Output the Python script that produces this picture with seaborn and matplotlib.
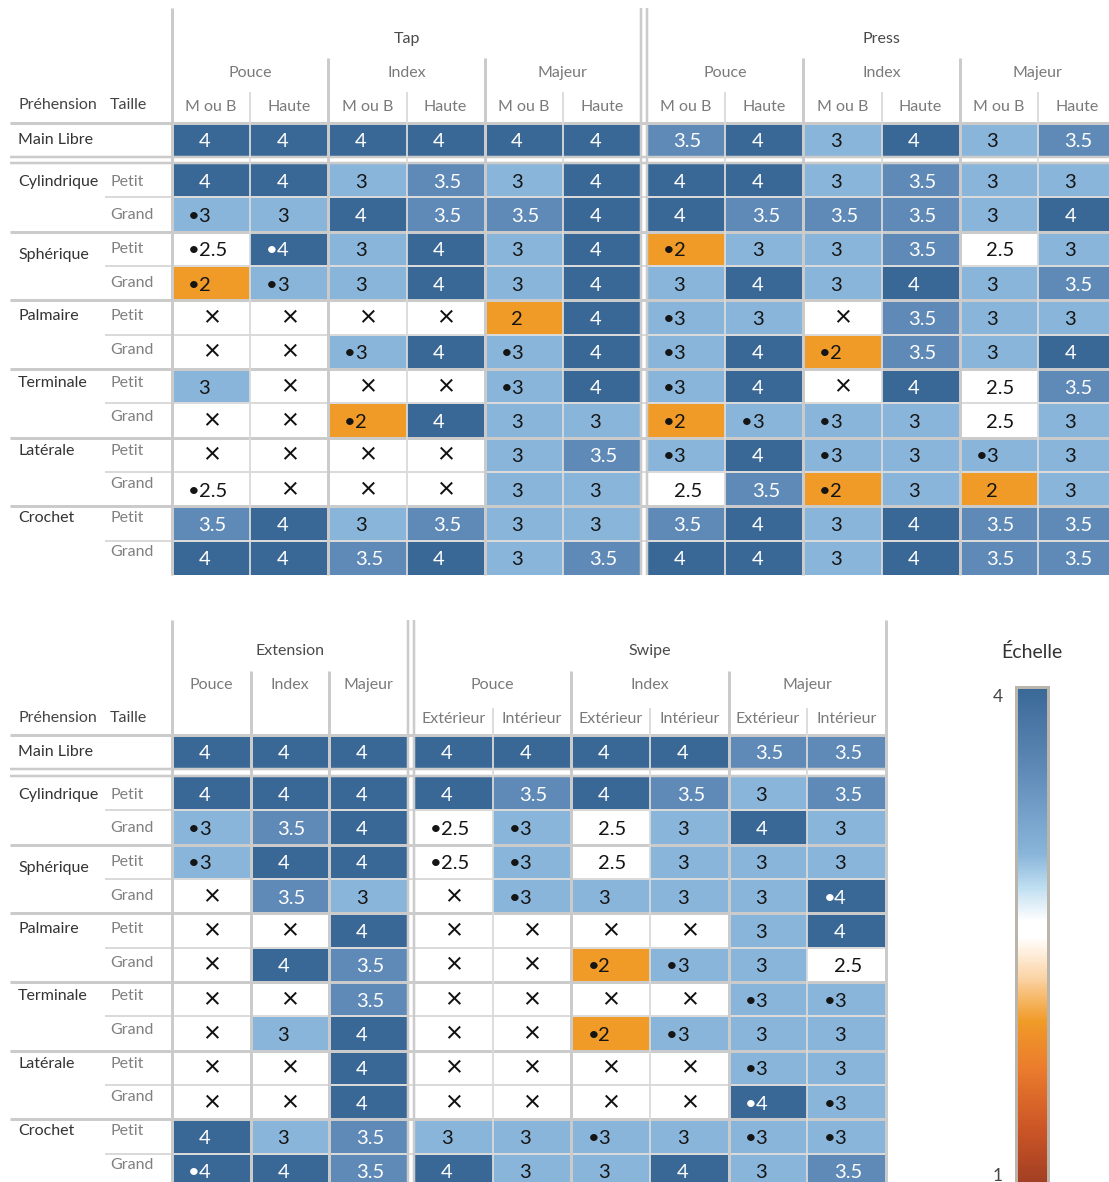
import numpy as np
import pandas as pd
import seaborn as sns
import matplotlib.pyplot as plt
from matplotlib.colors import LinearSegmentedColormap, Normalize
from matplotlib.cm import ScalarMappable
from matplotlib.lines import Line2D

sns.set_theme(style="white")
plt.rcParams['font.family'] = ['Lato', 'DejaVu Sans']

# ---------------------------------------------------------------- data
prehensions = ["Cylindrique", "Sphérique", "Palmaire", "Terminale", "Latérale", "Crochet"]
tailles = ["Petit", "Grand"]
doigts = ["Pouce", "Index", "Majeur"]
hauteurs = ["M ou B", "Haute"]
cotes = ["Extérieur", "Intérieur"]

# "x" = geste impossible, "•" = remarque
tap_main = ["4", "4", "4", "4", "4", "4"]
tap = [
    ["4", "4", "3", "3.5", "3", "4"],
    ["•3", "3", "4", "3.5", "3.5", "4"],
    ["•2.5", "•4", "3", "4", "3", "4"],
    ["•2", "•3", "3", "4", "3", "4"],
    ["x", "x", "x", "x", "2", "4"],
    ["x", "x", "•3", "4", "•3", "4"],
    ["3", "x", "x", "x", "•3", "4"],
    ["x", "x", "•2", "4", "3", "3"],
    ["x", "x", "x", "x", "3", "3.5"],
    ["•2.5", "x", "x", "x", "3", "3"],
    ["3.5", "4", "3", "3.5", "3", "3"],
    ["4", "4", "3.5", "4", "3", "3.5"],
]

press_main = ["3.5", "4", "3", "4", "3", "3.5"]
press = [
    ["4", "4", "3", "3.5", "3", "3"],
    ["4", "3.5", "3.5", "3.5", "3", "4"],
    ["•2", "3", "3", "3.5", "2.5", "3"],
    ["3", "4", "3", "4", "3", "3.5"],
    ["•3", "3", "x", "3.5", "3", "3"],
    ["•3", "4", "•2", "3.5", "3", "4"],
    ["•3", "4", "x", "4", "2.5", "3.5"],
    ["•2", "•3", "•3", "3", "2.5", "3"],
    ["•3", "4", "•3", "3", "•3", "3"],
    ["2.5", "3.5", "•2", "3", "2", "3"],
    ["3.5", "4", "3", "4", "3.5", "3.5"],
    ["4", "4", "3", "4", "3.5", "3.5"],
]

extension_main = ["4", "4", "4"]
extension = [
    ["4", "4", "4"],
    ["•3", "3.5", "4"],
    ["•3", "4", "4"],
    ["x", "3.5", "3"],
    ["x", "x", "4"],
    ["x", "4", "3.5"],
    ["x", "x", "3.5"],
    ["x", "3", "4"],
    ["x", "x", "4"],
    ["x", "x", "4"],
    ["4", "3", "3.5"],
    ["•4", "4", "3.5"],
]

swipe_main = ["4", "4", "4", "4", "3.5", "3.5"]
swipe = [
    ["4", "3.5", "4", "3.5", "3", "3.5"],
    ["•2.5", "•3", "2.5", "3", "4", "3"],
    ["•2.5", "•3", "2.5", "3", "3", "3"],
    ["x", "•3", "3", "3", "3", "•4"],
    ["x", "x", "x", "x", "3", "4"],
    ["x", "x", "•2", "•3", "3", "2.5"],
    ["x", "x", "x", "x", "•3", "•3"],
    ["x", "x", "•2", "•3", "3", "3"],
    ["x", "x", "x", "x", "•3", "3"],
    ["x", "x", "x", "x", "•4", "•3"],
    ["3", "3", "•3", "3", "•3", "•3"],
    ["4", "3", "3", "4", "3", "3.5"],
]

# ---------------------------------------------------------------- style
scale_nodes = [(1.0, "#9e3d22"), (1.35, "#cc5526"), (1.7, "#ea7a2c"), (2.0, "#f09b28"),
               (2.25, "#fbd2a2"), (2.5, "#ffffff"), (2.6, "#ffffff"), (2.8, "#bfdef0"),
               (3.0, "#8ab5da"), (3.5, "#5f8ab8"), (4.0, "#3a6896")]
cmap = LinearSegmentedColormap.from_list(
    "orange_blue", [((v - 1) / 3, c) for v, c in scale_nodes])
VMIN, VMAX = 1, 4

W, H = 1109, 1182
fig = plt.figure(figsize=(W / 100, H / 100), dpi=100)
fig.patch.set_facecolor("white")

GRID_DARK = "#cbcbcb"
GRID_LIGHT = "#dadada"


def add_ax(x0, y0, x1, y1):
    return fig.add_axes([x0 / W, 1 - y1 / H, (x1 - x0) / W, (y1 - y0) / H])


def hline(y, x0, x1, w, c=GRID_DARK):
    fig.add_artist(Line2D([x0 / W, x1 / W], [1 - y / H, 1 - y / H], transform=fig.transFigure,
                          lw=w * 0.72, color=c, solid_capstyle="butt", zorder=5))


def vline(x, y0, y1, w, c=GRID_DARK):
    fig.add_artist(Line2D([x / W, x / W], [1 - y0 / H, 1 - y1 / H], transform=fig.transFigure,
                          lw=w * 0.72, color=c, solid_capstyle="butt", zorder=5))


def ftext(x, y, s, **kw):
    kw.setdefault("va", "center")
    kw.setdefault("ha", "center")
    fig.text(x / W, 1 - y / H, s, **kw)


def parse(rows):
    vals = np.full((len(rows), len(rows[0])), np.nan)
    dots = np.zeros(vals.shape, dtype=bool)
    labels = np.full(vals.shape, "", dtype=object)
    for i, row in enumerate(rows):
        for j, s in enumerate(row):
            if s == "x":
                continue
            if s.startswith("•"):
                dots[i, j] = True
                s = s[1:]
            vals[i, j] = float(s)
            labels[i, j] = s
    return vals, dots, labels


def draw_block(x0, x1, y0, y1, rows):
    vals, dots, labels = parse(rows)
    ax = add_ax(x0, y0, x1, y1)
    sns.heatmap(pd.DataFrame(vals), ax=ax, cmap=cmap, vmin=VMIN, vmax=VMAX, cbar=False,
                xticklabels=False, yticklabels=False, linewidths=0)
    ax.set_facecolor("white")
    ax.set_xlabel("")
    ax.set_ylabel("")
    for i in range(vals.shape[0]):
        for j in range(vals.shape[1]):
            v = vals[i, j]
            if np.isnan(v):
                ax.text(j + 0.5, i + 0.52, "×", ha="center", va="center",
                        fontsize=21, color="#111111")
                continue
            col = "white" if v >= 3.5 else "#151515"
            ax.text(j + 0.34, i + 0.56, labels[i, j], ha="left", va="center",
                    fontsize=14.5, color=col)
            if dots[i, j]:
                ax.text(j + 0.355, i + 0.56, "•", ha="right", va="center",
                        fontsize=14.5, color=col)
    return ax


# ---------------------------------------------------------------- top panel: Tap / Press
TAP = (172, 641)
PRESS = (647, 1116)
T_HEAD, T_ML, T_BODY = 8, (123, 156), (163, 575)

for (x0, x1), main, body in [(TAP, tap_main, tap), (PRESS, press_main, press)]:
    draw_block(x0, x1, *T_ML, [main])
    draw_block(x0, x1, *T_BODY, body)

# bottom panel: Extension / Swipe
EXT = (172, 408)
SWIPE = (414, 886)
B_HEAD, B_ML, B_BODY = 620, (735, 768), (776, 1188)

draw_block(*EXT, *B_ML, [extension_main])
draw_block(*EXT, *B_BODY, extension)
draw_block(*SWIPE, *B_ML, [swipe_main])
draw_block(*SWIPE, *B_BODY, swipe)


# ---------------------------------------------------------------- grid lines and row labels
def row_grid(ml, body, x_right, head_bottom):
    hline(head_bottom, 10, x_right, 3)
    hline(ml[1] + 0.5, 10, x_right, 2.5)
    hline(body[0] - 0.5, 10, x_right, 2.5)
    rh = (body[1] - body[0]) / 12
    for r in range(1, 12):
        y = body[0] + r * rh
        if r % 2 == 0:
            hline(y, 10, x_right, 3)
        else:
            hline(y, 105, x_right, 2, GRID_LIGHT)
    ftext(18, (ml[0] + ml[1]) / 2, "Main Libre", ha="left", fontsize=11.5, color="#333333")
    for g, name in enumerate(prehensions):
        for t, taille in enumerate(tailles):
            r = 2 * g + t
            yt = body[0] + (r + 0.5) * rh + 1.5 - 0.7 * r
            ftext(110, yt, taille, ha="left", fontsize=11.5, color="#808080")
            if t == 0:
                ftext(18, yt + (6 if name == "Sphérique" else 0), name, ha="left",
                      fontsize=11.5, color="#333333")


row_grid(T_ML, T_BODY, W, 123)
row_grid(B_ML, B_BODY, 886, 735)


def column_grid(x0, x1, ncols, y_bottom, major_y, major_every, minor_y):
    cw = (x1 - x0) / ncols
    for k in range(1, ncols):
        x = x0 + k * cw
        if k % major_every == 0:
            vline(x, major_y, y_bottom, 3)
        else:
            vline(x, minor_y, y_bottom, 1.8, GRID_LIGHT)


# top panel verticals
vline(TAP[0], T_HEAD, T_BODY[1], 3)
vline(TAP[1], T_HEAD, T_BODY[1], 2.5)
vline(PRESS[0], T_HEAD, T_BODY[1], 2.5)
for x0, x1 in (TAP, PRESS):
    column_grid(x0, x1, 6, T_BODY[1], 58, 2, 92)

# bottom panel verticals
vline(EXT[0], B_HEAD, H, 3)
vline(EXT[1], B_HEAD, H, 2.5)
vline(SWIPE[0], B_HEAD, H, 2.5)
vline(SWIPE[1], B_HEAD, H, 3)
column_grid(*EXT, 3, H, 671, 1, 671)
column_grid(*SWIPE, 6, H, 671, 2, 708)

# ---------------------------------------------------------------- column headers
HEAD_KW = dict(fontsize=11.5)


def headers(x0, x1, title, subs, subsubs, y_title, y_sub, y_subsub):
    ftext((x0 + x1) / 2, y_title, title, color="#4a4a4a", **HEAD_KW)
    sw = (x1 - x0) / len(subs)
    for i, s in enumerate(subs):
        ftext(x0 + (i + 0.5) * sw, y_sub, s, color="#7a7a7a", **HEAD_KW)
        if subsubs:
            cw = sw / len(subsubs)
            for k, ss in enumerate(subsubs):
                ftext(x0 + i * sw + (k + 0.5) * cw, y_subsub, ss, color="#7a7a7a", **HEAD_KW)


headers(*TAP, "Tap", doigts, hauteurs, 39, 73, 107)
headers(*PRESS, "Press", doigts, hauteurs, 39, 73, 107)
headers(*EXT, "Extension", doigts, None, 651, 685, 719)
headers(*SWIPE, "Swipe", doigts, cotes, 651, 685, 719)

for y in (105, 718):
    ftext(18, y, "Préhension", ha="left", fontsize=11.5, color="#444444")
    ftext(110, y, "Taille", ha="left", fontsize=11.5, color="#444444")

# ---------------------------------------------------------------- colour scale
cax = add_ax(1016, 687, 1048, 1188)
cb = fig.colorbar(ScalarMappable(norm=Normalize(VMIN, VMAX), cmap=cmap), cax=cax, ticks=[])
cb.outline.set_edgecolor("#b9b5ab")
cb.outline.set_linewidth(3 * 0.72)
ftext(1032, 652, "Échelle", fontsize=14, color="#333333")
ftext(998, 697, "4", fontsize=12.5, color="#444444")
ftext(998, 1176, "1", fontsize=12.5, color="#444444")

fig.savefig("out.png", dpi=100, facecolor="white")
